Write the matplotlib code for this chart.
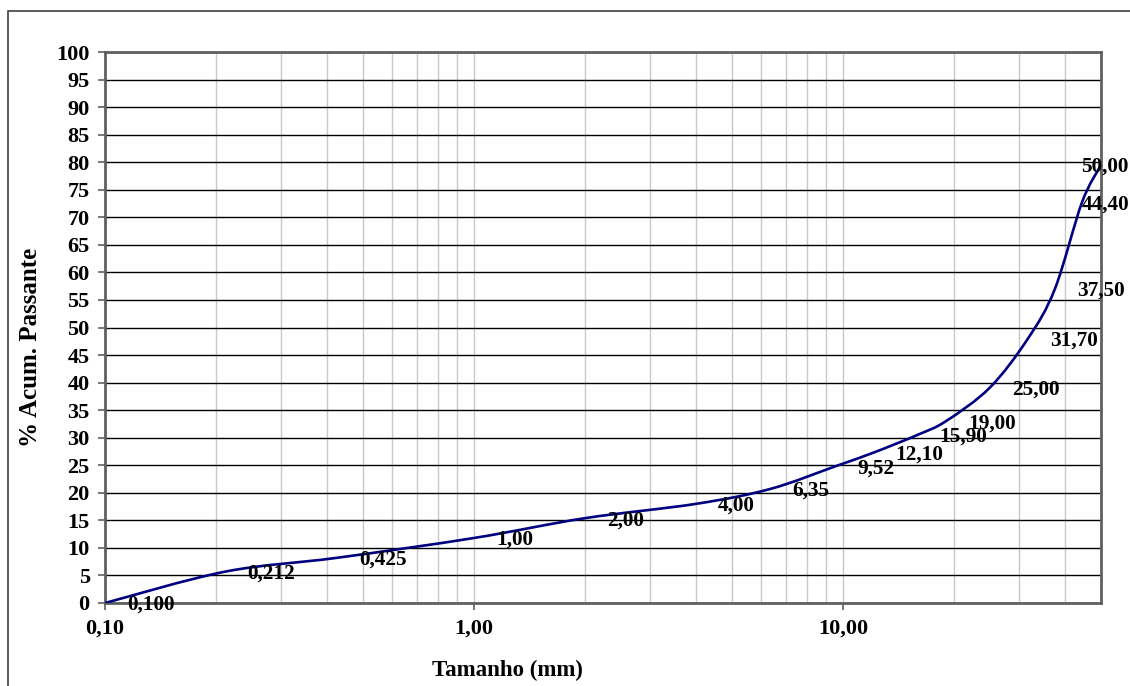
import numpy as np
import matplotlib
matplotlib.use("Agg")
import matplotlib.pyplot as plt
from matplotlib.path import Path
from matplotlib.patches import PathPatch, Rectangle
from matplotlib.ticker import FixedLocator, FuncFormatter, NullFormatter

# sieve sizes (mm) and cumulative % passing
sizes = [0.100, 0.212, 0.425, 1.00, 2.00, 4.00, 6.35, 9.52, 12.10, 15.90,
         19.00, 25.00, 31.70, 37.50, 44.40, 50.00]
passing = [0.0, 5.7, 8.2, 11.8, 15.4, 18.0, 20.7, 24.8, 27.3, 30.5,
           33.0, 39.1, 48.0, 57.0, 72.7, 79.5]
size_labels = ["0,100", "0,212", "0,425", "1,00", "2,00", "4,00", "6,35", "9,52",
               "12,10", "15,90", "19,00", "25,00", "31,70", "37,50", "44,40", "50,00"]
x_ticks = [0.1, 1, 10]
y_ticks = list(range(0, 101, 5))

plt.rcParams['font.family'] = ['Liberation Serif', 'DejaVu Serif']
plt.rcParams['font.weight'] = 'bold'


def smooth_path(xs, ys):
    # Excel-like smoothed line: cubic bezier segments built in (log x, y) space
    lx = np.log10(xs)
    y = np.asarray(ys, dtype=float)
    n = len(lx)
    verts = [(xs[0], y[0])]
    codes = [Path.MOVETO]
    for i in range(n - 1):
        i0 = max(i - 1, 0)
        i3 = min(i + 2, n - 1)
        c1x = lx[i] + (lx[i + 1] - lx[i0]) / 6
        c1y = y[i] + (y[i + 1] - y[i0]) / 6
        c2x = lx[i + 1] - (lx[i3] - lx[i]) / 6
        c2y = y[i + 1] - (y[i3] - y[i]) / 6
        verts += [(10 ** c1x, c1y), (10 ** c2x, c2y), (xs[i + 1], y[i + 1])]
        codes += [Path.CURVE4] * 3
    return Path(verts, codes)


fig = plt.figure(figsize=(11.3, 6.86), dpi=100)
fig.patches.append(Rectangle((8 / 1130, -0.1), 1.2, 0.1 + 1 - 11 / 686,
                             transform=fig.transFigure, fill=False,
                             edgecolor='#404040', linewidth=1.2))
ax = fig.add_axes([105 / 1130, 1 - 603 / 686, 996 / 1130, 551 / 686])

ax.set_xscale('log')
ax.set_xlim(0.1, 50)
ax.set_ylim(0, 100)

ax.add_patch(PathPatch(smooth_path(sizes, passing), fill=False,
                       edgecolor='#000080', linewidth=1.9, zorder=3))

for s, p, lab in zip(sizes[:-2], passing[:-2], size_labels[:-2]):
    ax.annotate(lab, xy=(s, p), xytext=(22, -2), textcoords='offset pixels',
                ha='left', va='center', fontsize=15.3, fontweight='bold', zorder=4)
# labels of the last two points are pushed back inside the chart edge
for p, lab in zip(passing[-2:], size_labels[-2:]):
    ax.annotate(lab, xy=(1129, p), xycoords=('figure pixels', 'data'),
                xytext=(0, -2), textcoords='offset pixels',
                ha='right', va='center', fontsize=15.3, fontweight='bold',
                annotation_clip=False, zorder=4)

ax.xaxis.set_major_locator(FixedLocator(x_ticks))
ax.xaxis.set_major_formatter(FuncFormatter(lambda v, pos: f"{v:.2f}".replace('.', ',')))
ax.xaxis.set_minor_formatter(NullFormatter())
ax.yaxis.set_major_locator(FixedLocator(y_ticks))

ax.grid(True, which='both', axis='x', color='#c8c8c8', linewidth=1.0)
ax.grid(True, which='major', axis='y', color='black', linewidth=1.0)
ax.set_axisbelow(True)

ax.tick_params(axis='both', which='major', direction='out', length=5,
               width=1.2, color='#606060', labelsize=16, pad=6)
ax.tick_params(axis='x', which='minor', length=0)
for lab in ax.get_xticklabels() + ax.get_yticklabels():
    lab.set_fontweight('bold')

for sp in ax.spines.values():
    sp.set_color('#606060')
    sp.set_linewidth(2)

ax.set_xlabel('Tamanho (mm)', fontsize=16.5, fontweight='bold')
ax.set_ylabel('% Acum. Passante', fontsize=18, fontweight='bold')
ax.xaxis.set_label_coords(0.4036, -0.1216)
ax.yaxis.set_label_coords(-0.0753, 0.4646)
ax.xaxis.label.set_va('center')
ax.yaxis.label.set_va('center')

fig.savefig('out.png', dpi=100)
